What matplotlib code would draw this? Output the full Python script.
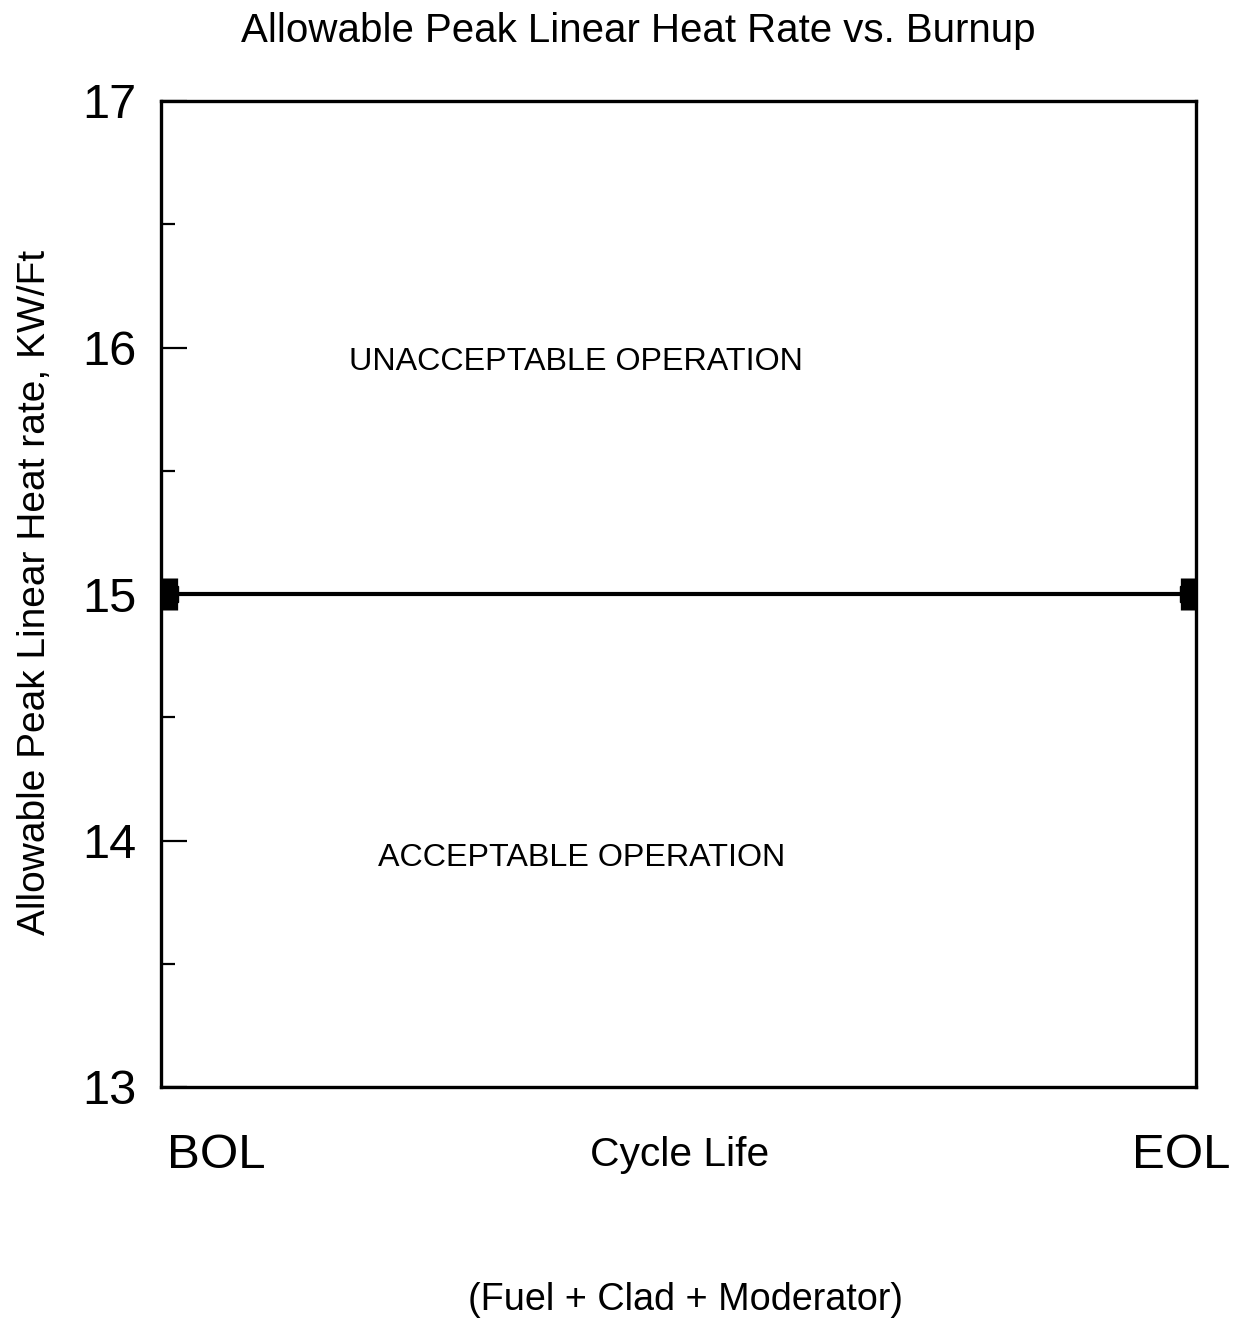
import numpy as np
import matplotlib.pyplot as plt

plt.rcParams['font.family'] = ['Liberation Sans', 'DejaVu Sans']

# data
x_pos = [0.0, 1.0]
limit = [15.0, 15.0]
y_major = [13, 14, 15, 16, 17]
y_minor = [13.5, 14.5, 15.5, 16.5]
x_labels = ['BOL', 'EOL']
region_labels = ['UNACCEPTABLE OPERATION', 'ACCEPTABLE OPERATION']
region_y = [15.94, 13.93]

fig = plt.figure(figsize=(12.41, 13.23), dpi=100)
ax = fig.add_axes([161 / 1241, 1 - 1087 / 1323, 1035 / 1241, 986 / 1323])

ax.plot(x_pos, limit, color='black', lw=3, marker='s', ms=11, mfc='black',
        mec='black', solid_capstyle='butt')
ax.plot(x_pos, limit, ls='none', marker='|', ms=23, mew=11, color='black')

ax.set_xlim(-0.009, 1.008)
ax.set_ylim(13, 17)
ax.set_xticks([])
ax.set_yticks(y_major)
ax.set_yticks(y_minor, minor=True)
ax.tick_params(axis='y', which='major', direction='in', length=19, width=1.6,
               labelsize=35, pad=18)
ax.tick_params(axis='y', which='minor', direction='in', length=10, width=1.6)
for s in ax.spines.values():
    s.set_linewidth(2.4)

ax.text(0.0531, -0.069, x_labels[0], transform=ax.transAxes, fontsize=35.5,
        ha='center', va='center')
ax.text(0.9855, -0.069, x_labels[1], transform=ax.transAxes, fontsize=35.5,
        ha='center', va='center')
ax.text(0.5014, -0.069, 'Cycle Life', transform=ax.transAxes, fontsize=29.3,
        ha='center', va='center')
ax.text(0.507, -0.216, '(Fuel + Clad + Moderator)', transform=ax.transAxes,
        fontsize=27.2, ha='center', va='center')

ax.text(0.399, region_y[0], region_labels[0], fontsize=23.2, ha='center', va='center')
ax.text(0.404, region_y[1], region_labels[1], fontsize=23.2, ha='center', va='center')

fig.text(638 / 1241, 1 - 31 / 1323, 'Allowable Peak Linear Heat Rate vs. Burnup',
         fontsize=29, ha='center', va='center')
fig.text(35 / 1241, 1 - 592 / 1323, 'Allowable Peak Linear Heat rate, KW/Ft',
         fontsize=28, rotation=90, ha='center', va='center')

fig.savefig('out.png', dpi=100)
